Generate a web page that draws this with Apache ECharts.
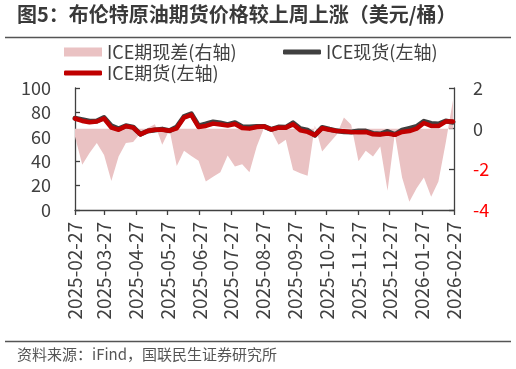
<!DOCTYPE html>
<html>
<head>
<meta charset="utf-8">
<script src="https://cdn.jsdelivr.net/npm/echarts@6/dist/echarts.min.js"></script>
<style>
html,body{margin:0;padding:0;background:#fff;}
#chart{width:516px;height:369px;}
</style>
</head>
<body>
<div id="chart"></div>
<script>
// weekly dates
const dates = [
'2025-02-27','2025-03-06','2025-03-13','2025-03-20','2025-03-27','2025-04-03','2025-04-10','2025-04-17','2025-04-24',
'2025-05-01','2025-05-08','2025-05-15','2025-05-22','2025-05-29','2025-06-05','2025-06-12','2025-06-19','2025-06-26',
'2025-07-03','2025-07-10','2025-07-17','2025-07-24','2025-07-31','2025-08-07','2025-08-14','2025-08-21','2025-08-28',
'2025-09-04','2025-09-11','2025-09-18','2025-09-25','2025-10-02','2025-10-09','2025-10-16','2025-10-23','2025-10-30',
'2025-11-06','2025-11-13','2025-11-20','2025-11-27','2025-12-04','2025-12-11','2025-12-18','2025-12-25',
'2026-01-01','2026-01-08','2026-01-15','2026-01-22','2026-01-29','2026-02-05','2026-02-12','2026-02-19','2026-02-26'
];
// ICE futures (left axis)
const futures = [
75.0,73.0,72.0,72.5,75.0,67.5,65.8,68.6,67.5,
62.0,64.7,65.8,65.8,65.0,67.0,75.8,78.0,68.0,
68.9,70.8,70.0,69.2,70.5,67.2,66.7,68.0,68.5,
66.0,67.5,67.5,70.2,65.3,64.0,61.4,67.0,65.8,
64.7,64.5,64.0,63.8,64.0,62.0,61.8,62.6,
61.6,64.0,64.7,66.7,71.3,68.9,68.8,72.5,72.5
];
// ICE spot (left axis)
const spot = [
75.2,74.1,72.7,72.9,75.8,69.0,66.6,69.0,67.9,
62.1,64.7,65.6,66.3,65.0,68.1,76.5,78.8,69.0,
70.5,72.2,71.3,70.0,71.6,68.3,68.0,68.5,68.5,
66.1,68.0,67.8,71.4,66.6,65.4,61.3,67.7,66.2,
64.9,64.2,63.9,64.8,64.7,62.8,62.3,64.4,
61.8,65.4,66.9,68.5,72.7,70.9,70.4,72.9,72.0
];
// ICE basis (right axis)
const basis = [
-0.40,-1.78,-1.20,-0.71,-1.29,-2.57,-1.37,-0.71,-0.66,
-0.22,0.03,0.22,-0.79,-0.05,-1.83,-1.09,-1.34,-1.58,
-2.60,-2.36,-2.14,-1.32,-1.86,-1.75,-2.14,-0.88,0.03,
-0.10,-0.79,-0.55,-2.03,-2.19,-2.31,0.16,-1.12,-0.71,
-0.30,0.55,0.19,-1.60,-1.09,-1.37,-0.88,-3.05,
-0.25,-2.40,-3.60,-2.93,-2.40,-3.35,-2.60,-0.70,1.40
];
const tickLabels = ['2025-02-27','2025-03-27','2025-04-27','2025-05-27','2025-06-27','2025-07-27','2025-08-27',
'2025-09-27','2025-10-27','2025-11-27','2025-12-27','2026-01-27','2026-02-27'];
const seriesNames = ['ICE期现差(右轴)','ICE现货(左轴)','ICE期货(左轴)'];

const toTs = s => { const p = s.split('-'); return new Date(+p[0], +p[1] - 1, +p[2]).getTime(); };
const tickTs = tickLabels.map(toTs);
const pad = n => (n < 10 ? '0' : '') + n;
const fmt = v => { const d = new Date(v); return d.getFullYear() + '-' + pad(d.getMonth() + 1) + '-' + pad(d.getDate()); };

const txt = '#404040';
const axisCol = '#404040';
const areaCol = '#eac2c3';
const font = '"Noto Sans CJK SC", "Noto Sans", sans-serif';
const legendText = {fontSize: 18, color: txt, fontFamily: font};

const chart = echarts.init(document.getElementById('chart'), null, {renderer: 'canvas'});
chart.setOption({
  animation: false,
  backgroundColor: '#fff',
  textStyle: {fontFamily: font},
  title: {
    text: '图5：布伦特原油期货价格较上周上涨（美元/桶）',
    left: 17, top: 4, padding: 0,
    textStyle: {fontSize: 20, fontWeight: 'bold', color: '#3a3a3a', fontFamily: font}
  },
  graphic: [
    {type: 'line', shape: {x1: 5, y1: 37.5, x2: 511, y2: 37.5}, style: {stroke: '#555', lineWidth: 1.5}},
    {type: 'line', shape: {x1: 5, y1: 341.5, x2: 511, y2: 341.5}, style: {stroke: '#555', lineWidth: 1.5}},
    {type: 'text', left: 17, top: 347, style: {text: '资料来源：iFind，国联民生证券研究所', fill: '#555', font: '15px ' + font}}
  ],
  legend: [
    {
      left: 64, top: 43, padding: 0, itemWidth: 38, itemHeight: 9, itemGap: 5,
      textStyle: legendText,
      data: [{name: seriesNames[0], icon: 'rect'}]
    },
    {
      left: 64, top: 64, padding: 0, itemWidth: 38, itemHeight: 5, itemGap: 5,
      textStyle: legendText,
      data: [{name: seriesNames[2], icon: 'roundRect'}]
    },
    {
      left: 283, top: 43, padding: 0, itemWidth: 38, itemHeight: 5, itemGap: 5,
      textStyle: legendText,
      data: [{name: seriesNames[1], icon: 'roundRect'}]
    }
  ],
  grid: {left: 75, right: 62, top: 88, bottom: 159, containLabel: false},
  xAxis: {
    type: 'value',
    min: tickTs[0], max: tickTs[tickTs.length - 1],
    axisLine: {lineStyle: {color: axisCol, width: 1.3}},
    axisTick: {show: true, length: 5, lineStyle: {color: axisCol, width: 1.3}, customValues: tickTs},
    axisLabel: {rotate: 90, margin: 12, fontSize: 19, color: txt, customValues: tickTs, formatter: v => fmt(v)},
    splitLine: {show: false}
  },
  yAxis: [
    {
      type: 'value', min: 0, max: 100, interval: 20,
      axisLine: {show: true, lineStyle: {color: axisCol, width: 1.3}},
      axisTick: {show: true, inside: true, length: 5, lineStyle: {color: axisCol, width: 1.3}},
      axisLabel: {fontSize: 18, color: txt, margin: 24},
      splitLine: {show: false}
    },
    {
      type: 'value', min: -4, max: 2, interval: 2, position: 'right',
      axisLine: {show: true, lineStyle: {color: axisCol, width: 1.3}},
      axisTick: {show: true, inside: true, length: 5, lineStyle: {color: axisCol, width: 1.3}},
      axisLabel: {fontSize: 18, margin: 19, color: v => (v < 0 ? '#ff0000' : txt)},
      splitLine: {show: false}
    }
  ],
  series: [
    {
      name: seriesNames[0], type: 'line', yAxisIndex: 1, symbol: 'none',
      data: dates.map((d, i) => [toTs(d), basis[i]]),
      lineStyle: {width: 0, color: areaCol},
      itemStyle: {color: areaCol},
      areaStyle: {color: areaCol, opacity: 1}
    },
    {
      name: seriesNames[1], type: 'line', yAxisIndex: 0, symbol: 'none',
      data: dates.map((d, i) => [toTs(d), spot[i]]),
      lineStyle: {width: 5, color: '#404040', join: 'round', cap: 'round'},
      itemStyle: {color: '#404040'}
    },
    {
      name: seriesNames[2], type: 'line', yAxisIndex: 0, symbol: 'none',
      data: dates.map((d, i) => [toTs(d), futures[i]]),
      lineStyle: {width: 4.5, color: '#c00000', join: 'round', cap: 'round'},
      itemStyle: {color: '#c00000'}
    }
  ]
});
</script>
</body>
</html>
